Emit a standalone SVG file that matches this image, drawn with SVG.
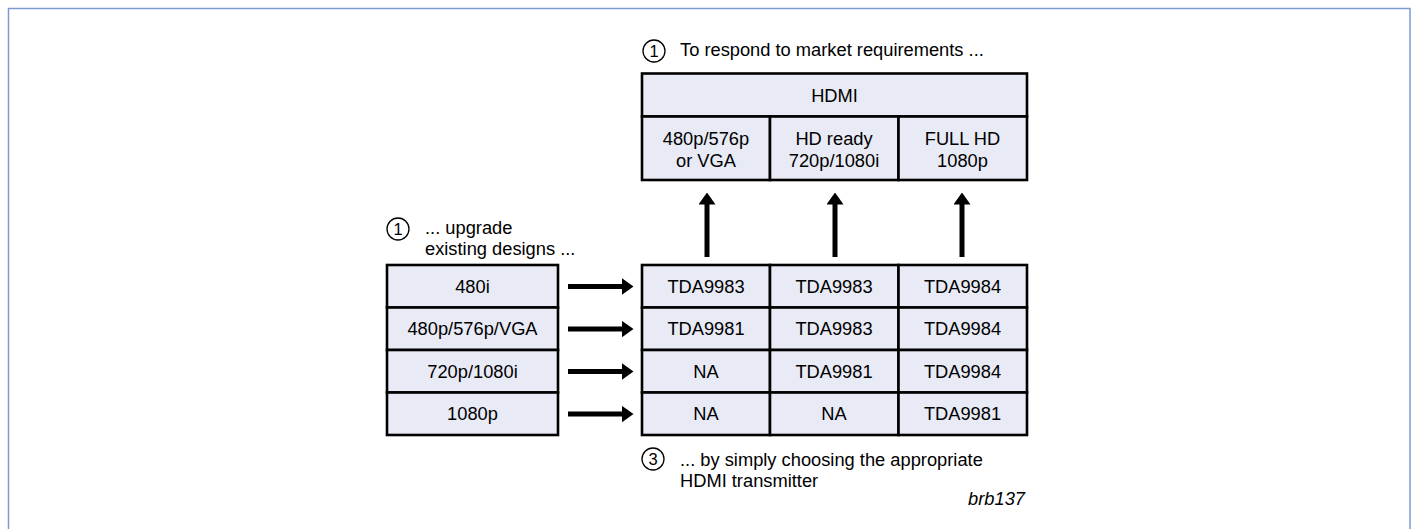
<svg xmlns="http://www.w3.org/2000/svg" width="1414" height="529" viewBox="0 0 1414 529">
<style>
text{font-family:"Liberation Sans",Arial,sans-serif;font-size:18.3px;fill:#000}
.c{text-anchor:middle}
.cell{fill:#e8eaf5;stroke:#000;stroke-width:2.6}
.conn{stroke:#000;stroke-width:5;fill:none}
.circ{fill:none;stroke:#000;stroke-width:1.3}
.num{font-size:16.5px;text-anchor:middle}
</style>
<defs>
<marker id="ah" viewBox="0 0 12 17" refX="0.5" refY="8.5" markerWidth="12" markerHeight="17" markerUnits="userSpaceOnUse" orient="auto">
<path d="M0,0 L12,8.5 L0,17 z" fill="#000"/>
</marker>
</defs>
<rect x="0" y="0" width="1414" height="529" fill="#fff"/>
<rect x="8.5" y="8.5" width="1401.5" height="540" fill="none" stroke="#7d9bd3" stroke-width="1.5"/>

<g id="note-top">
<circle class="circ" cx="654" cy="51" r="11"/>
<text class="num" x="654" y="57">1</text>
<text x="680" y="55.5">To respond to market requirements ...</text>
</g>

<g id="hdmi-table">
<rect class="cell" x="642" y="73.5" width="385" height="43"/>
<text class="c" x="834.5" y="101.5">HDMI</text>
<rect class="cell" x="642" y="116.5" width="128" height="63.5"/>
<rect class="cell" x="770" y="116.5" width="128.5" height="63.5"/>
<rect class="cell" x="898.5" y="116.5" width="128.5" height="63.5"/>
<text class="c" x="706" y="145">480p/576p</text>
<text class="c" x="706" y="166.5">or VGA</text>
<text class="c" x="834" y="145">HD ready</text>
<text class="c" x="834" y="166.5">720p/1080i</text>
<text class="c" x="962.5" y="145">FULL HD</text>
<text class="c" x="962.5" y="166.5">1080p</text>
</g>

<g id="note-left">
<circle class="circ" cx="398" cy="229" r="11"/>
<text class="num" x="398" y="235">1</text>
<text x="425" y="234">... upgrade</text>
<text x="425" y="255">existing designs ...</text>
</g>

<g id="source-table">
<rect class="cell" x="387" y="265" width="171" height="42.5"/>
<rect class="cell" x="387" y="307.5" width="171" height="42.5"/>
<rect class="cell" x="387" y="350" width="171" height="42.5"/>
<rect class="cell" x="387" y="392.5" width="171" height="42.5"/>
<text class="c" x="472.5" y="292.5">480i</text>
<text class="c" x="472.5" y="335">480p/576p/VGA</text>
<text class="c" x="472.5" y="377.5">720p/1080i</text>
<text class="c" x="472.5" y="420">1080p</text>
</g>

<g id="transmitter-table">
<rect class="cell" x="642" y="265" width="128" height="42.5"/>
<rect class="cell" x="770" y="265" width="128.5" height="42.5"/>
<rect class="cell" x="898.5" y="265" width="128.5" height="42.5"/>
<rect class="cell" x="642" y="307.5" width="128" height="42.5"/>
<rect class="cell" x="770" y="307.5" width="128.5" height="42.5"/>
<rect class="cell" x="898.5" y="307.5" width="128.5" height="42.5"/>
<rect class="cell" x="642" y="350" width="128" height="42.5"/>
<rect class="cell" x="770" y="350" width="128.5" height="42.5"/>
<rect class="cell" x="898.5" y="350" width="128.5" height="42.5"/>
<rect class="cell" x="642" y="392.5" width="128" height="42.5"/>
<rect class="cell" x="770" y="392.5" width="128.5" height="42.5"/>
<rect class="cell" x="898.5" y="392.5" width="128.5" height="42.5"/>
<text class="c" x="706" y="292.5">TDA9983</text>
<text class="c" x="834" y="292.5">TDA9983</text>
<text class="c" x="962.5" y="292.5">TDA9984</text>
<text class="c" x="706" y="335">TDA9981</text>
<text class="c" x="834" y="335">TDA9983</text>
<text class="c" x="962.5" y="335">TDA9984</text>
<text class="c" x="706" y="377.5">NA</text>
<text class="c" x="834" y="377.5">TDA9981</text>
<text class="c" x="962.5" y="377.5">TDA9984</text>
<text class="c" x="706" y="420">NA</text>
<text class="c" x="834" y="420">NA</text>
<text class="c" x="962.5" y="420">TDA9981</text>
</g>

<g id="note-bottom">
<circle class="circ" cx="653" cy="459" r="11"/>
<text class="num" x="653" y="465">3</text>
<text x="680" y="466">... by simply choosing the appropriate</text>
<text x="680" y="487">HDMI transmitter</text>
<text x="1025" y="505" text-anchor="end" font-style="italic" font-size="16">brb137</text>
</g>

<g id="connectors">
<line class="conn" x1="568" y1="286.5" x2="622" y2="286.5" marker-end="url(#ah)"/>
<line class="conn" x1="568" y1="329" x2="622" y2="329" marker-end="url(#ah)"/>
<line class="conn" x1="568" y1="371.5" x2="622" y2="371.5" marker-end="url(#ah)"/>
<line class="conn" x1="568" y1="414" x2="622" y2="414" marker-end="url(#ah)"/>
<line class="conn" x1="707" y1="257" x2="707" y2="204" marker-end="url(#ah)"/>
<line class="conn" x1="835" y1="257" x2="835" y2="204" marker-end="url(#ah)"/>
<line class="conn" x1="962" y1="257" x2="962" y2="204" marker-end="url(#ah)"/>
</g>
</svg>
